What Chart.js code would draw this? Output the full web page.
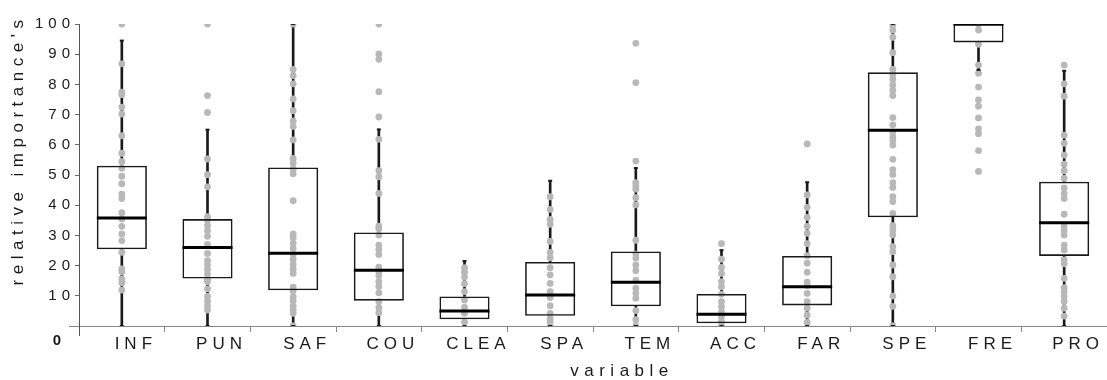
<!DOCTYPE html>
<html><head><meta charset="utf-8">
<script src="https://cdn.jsdelivr.net/npm/chart.js@4"></script>
<style>html,body{margin:0;padding:0;background:#fff}#wrap{width:1107px;height:380px;position:relative}</style>
</head><body><div id="wrap"><canvas id="c" width="1107" height="380"></canvas></div>
<script>
const categories = ['INF','PUN','SAF','COU','CLEA','SPA','TEM','ACC','FAR','SPE','FRE','PRO'];
const q1 =          [25.4, 15.7, 11.8, 8.4, 2.2, 3.4, 6.5, 0.9, 6.8, 36.0, 93.9, 23.2];
const median =      [35.8, 26.0, 24.1, 18.5, 5.0, 10.3, 14.5, 3.9, 13.0, 64.8, 100, 34.2];
const q3 =          [53.1, 35.4, 52.5, 31.0, 9.8, 21.2, 24.7, 10.6, 23.2, 84.0, 100, 47.8];
const whiskerLow =  [0, 0, 0, 0, 0, 0, 0, 0, 0, 0, 84.8, 0];
const whiskerHigh = [94.5, 65.0, 100, 65.1, 21.5, 48.1, 52.3, 25.1, 47.6, 100, 100, 84.5];
const yTickValues = [10, 20, 30, 40, 50, 60, 70, 80, 90, 100];

const dotsINF = [100, 86.8, 77.4, 76.6, 72.5, 70.2, 63, 57.2, 54.4, 52.2, 49.6, 47.1, 43.7, 42.2, 37.5, 35.4, 33, 30.5, 28.3, 24.4, 18.9, 18, 15.6, 14.3, 11.9];
const dotsPUN = [100, 76.3, 70.7, 55.3, 50.1, 46.1, 36.2, 35, 33.2, 31.5, 29.7, 27, 24, 21.6, 20.2, 18.7, 17.2, 15.5, 14.7, 12.3, 9.8, 8.3, 6.7, 5.3];
const dotsSAF = [100, 85, 82.9, 80.2, 75.2, 71.3, 67.9, 66.1, 61.6, 55.5, 53.9, 51.9, 50.4, 41.5, 30.5, 29.3, 27.4, 25.7, 23.7, 22.1, 20.4, 18.9, 17.4, 12.9, 11.6, 9.6, 8.3, 6.5, 5.3, 4.2, 0];
const dotsCOU = [100, 90.1, 88.3, 77.6, 69.2, 61.8, 51.4, 49.4, 43.9, 33.1, 32.2, 30.1, 26.8, 25.4, 23.7, 19.5, 18, 16.6, 14.7, 13.1, 11, 8.1, 6.1, 4.4];
const dotsCLEA = [19.3, 17.8, 16.2, 14, 11.4, 8.6, 6.2, 4.2, 1.3];
const dotsSPA = [42.8, 38.6, 35.3, 33.7, 28, 24.4, 22.6, 19.3, 16.9, 14.1, 11.4, 9.4, 6.7, 4.2, 2.5, 1.4, 0];
const dotsTEM = [93.6, 80.6, 54.6, 47.5, 46.4, 45.3, 42.5, 40.1, 28.4, 23.8, 22.5, 20.2, 18.3, 15.2, 12.5, 10.9, 9.2, 5.1, 2.1, 0];
const dotsACC = [27.3, 22.1, 19.4, 17.4, 14.7, 13, 10.5, 8.1, 6.4, 4.7, 3.1, 1.4, 0];
const dotsFAR = [60.3, 43.4, 39.3, 36, 33, 30.7, 27.3, 23.3, 20.8, 17.8, 14.5, 13.3, 10.8, 8.1, 5.9, 3.6, 1.2];
const dotsSPE = [99.7, 98, 95.6, 90.5, 85, 83.3, 81.7, 79.8, 78, 76.3, 69, 66.6, 64.2, 62.6, 61.3, 59.9, 55.2, 51.8, 50.2, 47.5, 45.9, 42.8, 41.2, 37.3, 33.2, 31.8, 30.1, 26.3, 24.6, 20.2, 16.3, 9.9, 6.5, 0];
const dotsFRE = [100, 98, 93.3, 86.4, 83.7, 79.1, 74.9, 72.8, 68.9, 65.3, 63.7, 58.1, 51.2];
const dotsPRO = [86.4, 80.2, 76.1, 63.2, 60.5, 56.6, 53.6, 51.4, 48.9, 45.7, 43.9, 42.2, 37, 32.9, 31.5, 30.1, 26.8, 25.2, 21.9, 20.6, 15.8, 12.7, 11.4, 9.7, 8.1, 5.9, 3.3];

const yTitle = "relative importance's";
const xTitle = 'variable';
const zeroLabel = '0';

const dotSeries = [dotsINF, dotsPUN, dotsSAF, dotsCOU, dotsCLEA, dotsSPA, dotsTEM, dotsACC, dotsFAR, dotsSPE, dotsFRE, dotsPRO];
const dotPoints = [];
categories.forEach((c, i) => dotSeries[i].forEach(v => dotPoints.push({x: c, y: v})));
const capPoints = [];
categories.forEach((c, i) => {
  capPoints.push({x: c, y: whiskerHigh[i]});
  capPoints.push({x: c, y: whiskerLow[i]});
});

const FONT = "'Liberation Sans', Arial, sans-serif";

const decor = {
  id: 'decor',
  beforeUpdate(chart) { chart.ctx.letterSpacing = '5px'; },
  beforeDraw(chart) { chart.ctx.letterSpacing = '5px'; },
  afterDraw(chart) {
    const ctx = chart.ctx;
    const ys = chart.scales.y;
    const ca = chart.chartArea;
    const left = ca.left, bottom = ca.bottom;
    ctx.save();
    ctx.strokeStyle = '#888'; ctx.lineWidth = 1;
    ctx.beginPath(); ctx.moveTo(left - 10, bottom + 0.5); ctx.lineTo(left, bottom + 0.5); ctx.stroke();
    ctx.strokeStyle = '#555';
    ctx.beginPath(); ctx.moveTo(left + 0.5, bottom); ctx.lineTo(left + 0.5, bottom + 10); ctx.stroke();
    ctx.fillStyle = '#1a1a1a';
    ctx.letterSpacing = '0px';
    ctx.font = 'bold 15px ' + FONT;
    ctx.textAlign = 'center'; ctx.textBaseline = 'middle';
    ctx.fillText(zeroLabel, left - 22, ys.getPixelForValue(0) + 15);
    ctx.letterSpacing = '5.5px';
    ctx.font = '17px ' + FONT;
    ctx.fillText(xTitle, 622, 371);
    ctx.translate(18, 150);
    ctx.rotate(-Math.PI / 2);
    ctx.fillText(yTitle, 0, 0);
    ctx.restore();
    ctx.letterSpacing = '0px';
  }
};

new Chart(document.getElementById('c'), {
  type: 'bar',
  data: {
    labels: categories,
    datasets: [
      {type: 'bar', label: 'upper whisker', data: categories.map((c, i) => [q3[i], whiskerHigh[i]]),
       backgroundColor: '#1a1a1a', borderWidth: 0, barThickness: 2, grouped: false, order: 6},
      {type: 'bar', label: 'lower whisker', data: categories.map((c, i) => [whiskerLow[i], q1[i]]),
       backgroundColor: '#1a1a1a', borderWidth: 0, barThickness: 2, grouped: false, order: 6},
      {type: 'scatter', label: 'observations', data: dotPoints, pointRadius: 3.4,
       pointBackgroundColor: '#b8b8b8', pointBorderWidth: 0, order: 4},
      {type: 'bar', label: 'box', data: categories.map((c, i) => [q1[i], q3[i]]),
       backgroundColor: 'rgba(0,0,0,0)', borderColor: '#1a1a1a', borderWidth: 1.6, borderSkipped: false,
       barPercentage: 0.585, categoryPercentage: 1, grouped: false, order: 3},
      {type: 'scatter', label: 'median', data: categories.map((c, i) => ({x: c, y: median[i]})),
       pointStyle: 'line', pointRadius: 25, pointBorderColor: '#000', pointBorderWidth: 3, order: 2},
      {type: 'scatter', label: 'caps', data: capPoints,
       pointStyle: 'line', pointRadius: 2, pointBorderColor: '#1a1a1a', pointBorderWidth: 2, order: 1}
    ]
  },
  options: {
    responsive: false,
    animation: false,
    events: [],
    layout: {autoPadding: false, padding: {top: 24, right: 0, left: 0, bottom: 0}},
    plugins: {legend: {display: false}, tooltip: {enabled: false}},
    scales: {
      x: {
        type: 'category', offset: true,
        grid: {offset: true, drawOnChartArea: false, drawTicks: true, tickLength: 6, color: '#888'},
        border: {color: '#888', width: 1},
        ticks: {color: '#1a1a1a', font: {family: FONT, size: 17}, padding: 2, labelOffset: 14,
                maxRotation: 0, autoSkip: false},
        afterFit(s) { s.height = 54; s.paddingLeft = 0; s.paddingRight = 0; }
      },
      y: {
        min: 0, max: 100,
        afterBuildTicks(s) { s.ticks = [0].concat(yTickValues).map(v => ({value: v})); },
        ticks: {color: '#1a1a1a', font: {family: FONT, size: 15}, padding: 0,
                callback: v => (v === 0 ? '' : String(v))},
        grid: {drawOnChartArea: false, tickLength: 4, color: '#666'},
        border: {color: '#555', width: 1},
        afterFit(s) { s.width = 79; s.paddingTop = 0; s.paddingBottom = 0; }
      }
    }
  },
  plugins: [decor]
});
</script>
</body></html>
